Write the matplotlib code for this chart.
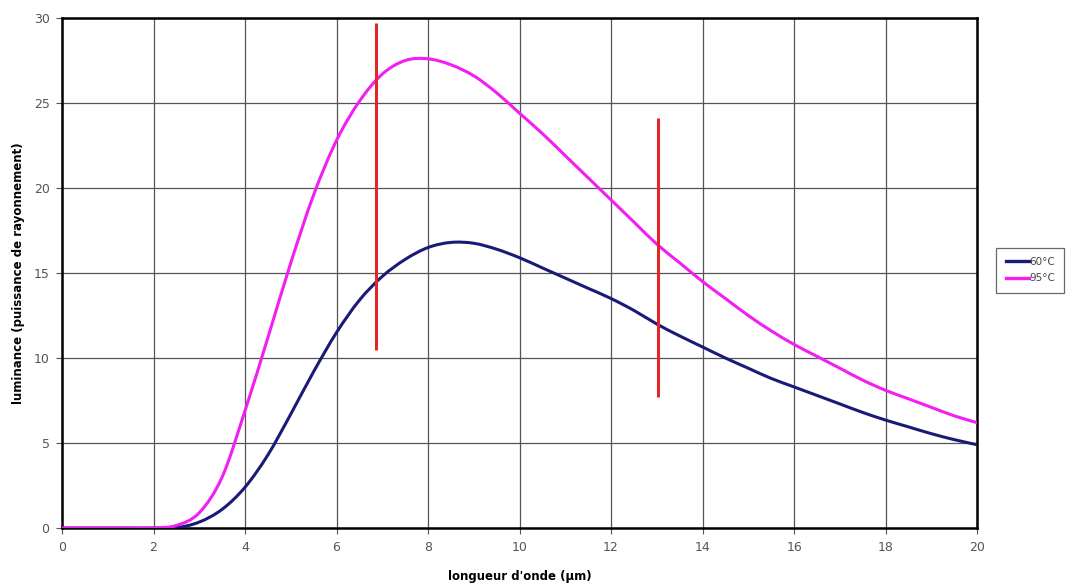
import matplotlib
matplotlib.use("Agg")
import matplotlib.pyplot as plt
from matplotlib.path import Path
from matplotlib.patches import PathPatch
from matplotlib.lines import Line2D

# wavelength (um) and luminance
wavelength = [0, 0.5, 1, 1.5, 2, 2.5, 3, 3.5, 4, 4.5, 5, 5.5, 6, 6.5, 7, 7.5, 8, 8.5, 9, 9.5,
              10, 10.5, 11, 11.5, 12, 12.5, 13, 13.5, 14, 14.5, 15, 15.5, 16, 16.5, 17, 17.5,
              18, 18.5, 19, 19.5, 20]
lum_60 = [0, 0, 0, 0, 0, 0.02, 0.35, 1.1, 2.4, 4.3, 6.7, 9.2, 11.5, 13.4, 14.8, 15.8, 16.5,
          16.8, 16.75, 16.4, 15.9, 15.3, 14.7, 14.1, 13.5, 12.8, 12.0, 11.3, 10.65, 10.0, 9.4,
          8.8, 8.3, 7.8, 7.3, 6.8, 6.35, 5.95, 5.55, 5.2, 4.9]
lum_95 = [0, 0, 0, 0, 0, 0.15, 0.9, 3.0, 6.9, 11.2, 15.6, 19.6, 22.8, 25.1, 26.7, 27.5, 27.6,
          27.25, 26.6, 25.6, 24.4, 23.2, 21.9, 20.6, 19.3, 18.0, 16.7, 15.6, 14.5, 13.5, 12.5,
          11.6, 10.8, 10.1, 9.4, 8.7, 8.1, 7.6, 7.1, 6.6, 6.2]
labels = ["60°C", "95°C"]

# red marker bars: x position, bottom, top
marker_x = [6.87, 13.02]
marker_lo = [10.5, 7.7]
marker_hi = [29.7, 24.1]

NAVY = "#1a1a78"
PINK = "#f21ef2"
RED = "#e02828"


def smooth_line(ax, xs, ys, color, lw):
    """Excel-style smoothed line: Catmull-Rom through the points as cubic Beziers."""
    verts = [(xs[0], ys[0])]
    codes = [Path.MOVETO]
    n = len(xs)
    for i in range(n - 1):
        x0, y0 = (xs[i - 1], ys[i - 1]) if i > 0 else (xs[i], ys[i])
        x1, y1 = xs[i], ys[i]
        x2, y2 = xs[i + 1], ys[i + 1]
        x3, y3 = (xs[i + 2], ys[i + 2]) if i + 2 < n else (x2, y2)
        c1 = (x1 + (x2 - x0) / 6, y1 + (y2 - y0) / 6)
        c2 = (x2 - (x3 - x1) / 6, y2 - (y3 - y1) / 6)
        verts += [c1, c2, (x2, y2)]
        codes += [Path.CURVE4] * 3
    ax.add_patch(PathPatch(Path(verts, codes), fill=False, edgecolor=color, lw=lw,
                           capstyle="round", joinstyle="round", zorder=3))


fig = plt.figure(figsize=(10.69, 5.85), dpi=100)
ax = fig.add_axes([0.058, 0.0974, 0.856, 0.8718])

smooth_line(ax, wavelength, lum_60, NAVY, 2.2)
smooth_line(ax, wavelength, lum_95, PINK, 2.2)
ax.vlines(marker_x, marker_lo, marker_hi, color=RED, lw=2.2, zorder=4)

ax.set_xlim(0, 20)
ax.set_ylim(0, 30)
ax.set_xticks(range(0, 21, 2))
ax.set_yticks(range(0, 31, 5))
ax.grid(True, color="#555555", lw=0.9, zorder=0)
ax.tick_params(labelsize=9, labelcolor="#555555", length=4, width=0.8, color="#555555", pad=5)
for s in ax.spines.values():
    s.set_linewidth(1.8)
    s.set_color("black")

ax.set_xlabel("longueur d'onde (µm)", fontsize=8.5, fontweight="bold", labelpad=12)
ax.set_ylabel("luminance (puissance de rayonnement)", fontsize=8.5, fontweight="bold", labelpad=6)

handles = [Line2D([], [], color=NAVY, lw=2.4), Line2D([], [], color=PINK, lw=2.4)]
leg = fig.legend(handles, labels, loc="center left", bbox_to_anchor=(0.932, 0.538),
                 fontsize=7.5, frameon=True, fancybox=False, edgecolor="#444444",
                 handlelength=2.2, handletextpad=0.05, borderpad=0.9, labelspacing=0.6,
                 borderaxespad=0)
leg.get_frame().set_linewidth(0.9)
for t in leg.get_texts():
    t.set_color("#444444")

fig.savefig("out.png", dpi=100)
